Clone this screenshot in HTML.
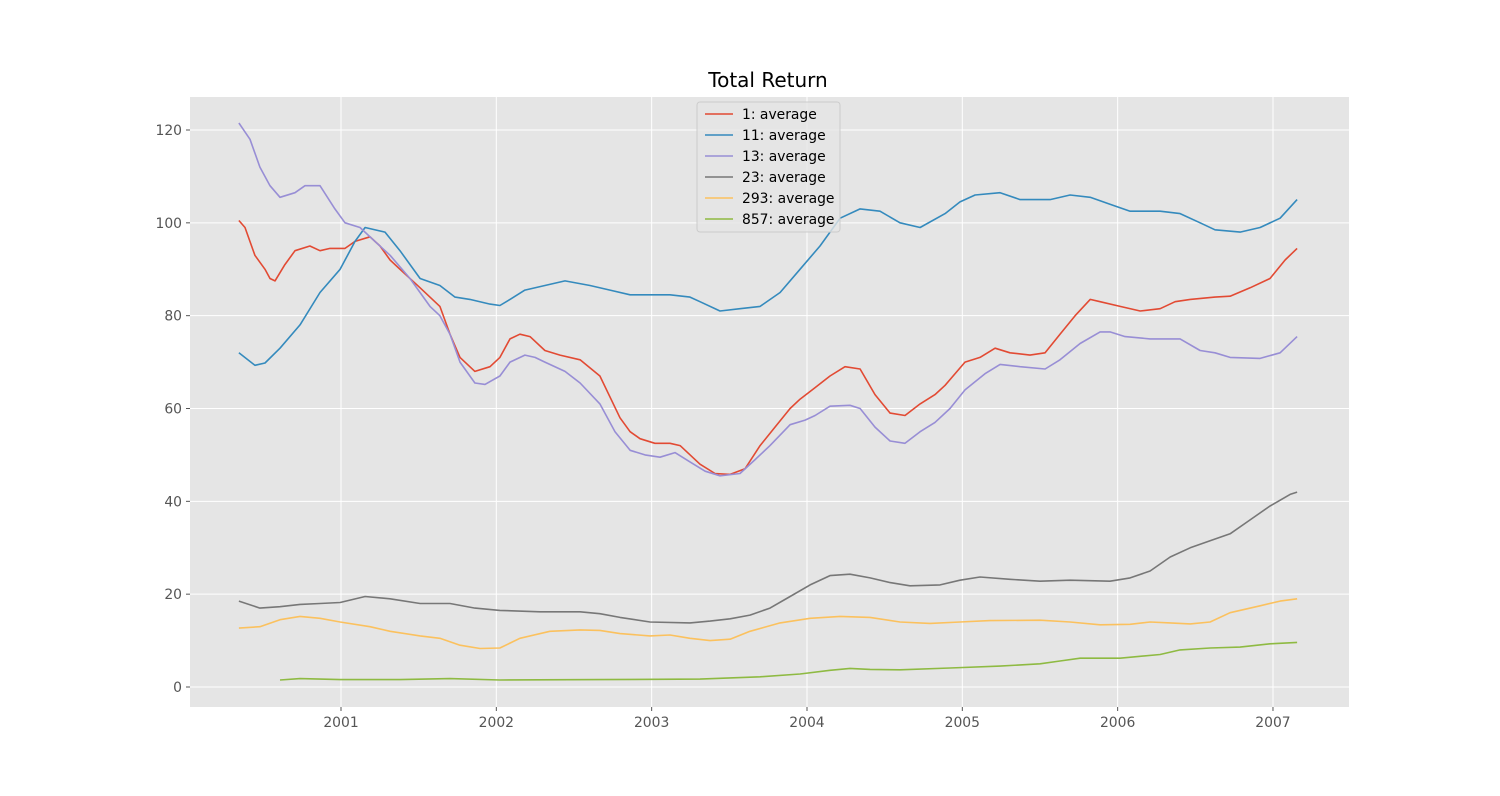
<!DOCTYPE html>
<html><head><meta charset="utf-8"><style>
html,body{margin:0;padding:0;background:#fff;}
svg{display:block;font-family:"DejaVu Sans","Liberation Sans",sans-serif;}
</style></head><body>
<svg id="chart" width="1500" height="796" viewBox="0 0 1500 796">
<rect x="0" y="0" width="1500" height="796" fill="#ffffff"/>
<text x="768" y="87" text-anchor="middle" font-size="20" fill="#000">Total Return</text>
<rect x="190" y="97" width="1159" height="610" fill="#e5e5e5"/>
<g id="grid"></g><g id="axes"></g><g id="series"></g><g id="legend"></g>
</svg>
<script>
const yTicks=[0,20,40,60,80,100,120];
const xTicks=[2001,2002,2003,2004,2005,2006,2007];
const seriesNames=["1: average","11: average","13: average","23: average","293: average","857: average"];
const seriesColors=["#E24A33","#348ABD","#988ED5","#777777","#FBC15E","#8EBA42"];

const d1=[2000.343,2000.382,2000.446,2000.511,2000.543,2000.575,2000.639,2000.704,2000.800,2000.865,2000.929,2001.026,2001.090,2001.187,2001.251,2001.316,2001.380,2001.509,2001.637,2001.702,2001.766,2001.862,2001.959,2002.023,2002.088,2002.152,2002.217,2002.313,2002.410,2002.539,2002.667,2002.796,2002.861,2002.925,2003.021,2003.118,2003.183,2003.311,2003.408,2003.505,2003.601,2003.698,2003.794,2003.891,2003.955,2004.052,2004.148,2004.245,2004.342,2004.438,2004.535,2004.631,2004.728,2004.824,2004.889,2005.017,2005.114,2005.211,2005.307,2005.436,2005.533,2005.629,2005.726,2005.823,2005.887,2006.016,2006.145,2006.273,2006.370,2006.467,2006.627,2006.724,2006.853,2006.981,2007.078,2007.155];
const v1=[100.5,99,93,90,88,87.5,91,94,95,94,94.5,94.5,96,97,95,92,90,86,82,76,71,68,69,71,75,76,75.5,72.5,71.5,70.5,67,58,55,53.5,52.5,52.5,52,48,46,45.8,47,52,56,60,62,64.5,67,69,68.5,63,59,58.5,61,63,65,70,71,73,72,71.5,72,76,80,83.5,83,82,81,81.5,83,83.5,84,84.2,86,88,92,94.5];

const d2=[2000.343,2000.446,2000.511,2000.607,2000.736,2000.865,2000.994,2001.090,2001.155,2001.283,2001.380,2001.509,2001.637,2001.734,2001.830,2001.959,2002.023,2002.088,2002.184,2002.313,2002.442,2002.603,2002.732,2002.861,2002.989,2003.118,2003.247,2003.311,2003.440,2003.569,2003.698,2003.827,2003.955,2004.084,2004.213,2004.342,2004.470,2004.599,2004.728,2004.889,2004.985,2005.082,2005.243,2005.372,2005.565,2005.694,2005.823,2005.951,2006.080,2006.273,2006.402,2006.531,2006.627,2006.788,2006.917,2007.046,2007.155];
const v2=[72,69.3,69.8,73,78,85,90,96,99,98,94,88,86.5,84,83.5,82.5,82.2,83.5,85.5,86.5,87.5,86.5,85.5,84.5,84.5,84.5,84,83,81,81.5,82,85,90,95,101,103,102.5,100,99,102,104.5,106,106.5,105,105,106,105.5,104,102.5,102.5,102,100,98.5,98,99,101,105];

const d3=[2000.343,2000.414,2000.478,2000.543,2000.607,2000.704,2000.768,2000.865,2000.961,2001.026,2001.122,2001.219,2001.316,2001.444,2001.573,2001.637,2001.702,2001.766,2001.862,2001.927,2002.023,2002.088,2002.184,2002.249,2002.313,2002.442,2002.539,2002.667,2002.764,2002.861,2002.957,2003.054,2003.150,2003.247,2003.344,2003.440,2003.569,2003.666,2003.762,2003.891,2003.988,2004.052,2004.148,2004.277,2004.342,2004.438,2004.535,2004.631,2004.728,2004.824,2004.921,2005.017,2005.146,2005.243,2005.372,2005.533,2005.629,2005.758,2005.887,2005.951,2006.048,2006.209,2006.402,2006.531,2006.627,2006.724,2006.917,2007.046,2007.155];
const v3=[121.5,118,112,108,105.5,106.5,108,108,103,100,99,96,93,88,82,80,76,70,65.5,65.2,67,70,71.5,71,70,68,65.5,61,55,51,50,49.5,50.5,48.5,46.5,45.5,46,49,52,56.5,57.5,58.5,60.5,60.7,60,56,53,52.5,55,57,60,64,67.5,69.5,69,68.5,70.5,74,76.5,76.5,75.5,75,75,72.5,72,71,70.8,72,75.5];

const d4=[2000.343,2000.478,2000.607,2000.736,2000.865,2000.994,2001.155,2001.316,2001.509,2001.702,2001.862,2002.023,2002.281,2002.539,2002.667,2002.796,2002.989,2003.247,2003.376,2003.505,2003.633,2003.762,2003.891,2004.020,2004.148,2004.277,2004.406,2004.535,2004.663,2004.857,2004.985,2005.114,2005.307,2005.500,2005.694,2005.951,2006.080,2006.209,2006.338,2006.467,2006.595,2006.724,2006.853,2006.981,2007.110,2007.155];
const v4=[18.5,17,17.3,17.8,18,18.2,19.5,19,18,18,17,16.5,16.2,16.2,15.8,15,14,13.8,14.2,14.7,15.5,17,19.5,22,24,24.3,23.5,22.5,21.8,22,23,23.7,23.2,22.8,23,22.8,23.5,25,28,30,31.5,33,36,39,41.5,42];

const d5=[2000.343,2000.478,2000.607,2000.736,2000.865,2000.994,2001.187,2001.316,2001.509,2001.637,2001.766,2001.895,2002.023,2002.152,2002.345,2002.539,2002.667,2002.796,2002.989,2003.118,2003.247,2003.376,2003.505,2003.633,2003.827,2004.020,2004.213,2004.406,2004.599,2004.792,2004.985,2005.178,2005.500,2005.694,2005.887,2006.080,2006.209,2006.338,2006.467,2006.595,2006.724,2006.917,2007.046,2007.155];
const v5=[12.7,13,14.5,15.2,14.8,14,13,12,11,10.5,9,8.3,8.4,10.5,12,12.3,12.2,11.5,11,11.2,10.5,10,10.3,12,13.8,14.8,15.2,15,14,13.7,14,14.3,14.4,14,13.4,13.5,14,13.8,13.6,14,16,17.5,18.5,19];

const d6=[2000.607,2000.736,2000.994,2001.380,2001.702,2002.023,2002.667,2003.311,2003.698,2003.955,2004.148,2004.277,2004.406,2004.599,2004.921,2005.243,2005.500,2005.629,2005.758,2006.016,2006.273,2006.402,2006.595,2006.788,2006.981,2007.155];
const v6=[1.5,1.8,1.6,1.6,1.8,1.5,1.6,1.7,2.2,2.8,3.6,4,3.8,3.7,4.1,4.5,5,5.6,6.2,6.2,7,8,8.4,8.6,9.3,9.6];

const allDates=[d1,d2,d3,d4,d5,d6];
const allVals=[v1,v2,v3,v4,v5,v6];
const NS="http://www.w3.org/2000/svg";
const X0=190,X1=1349,Y0=97,Y1=707;
function xs(t){return 341+(t-2001)*155.33;}
function ys(v){return 687-v*(557/120);}
function mk(tag,attrs,parent){const e=document.createElementNS(NS,tag);for(const k in attrs)e.setAttribute(k,attrs[k]);parent.appendChild(e);return e;}
const grid=document.getElementById('grid'),axes=document.getElementById('axes'),ser=document.getElementById('series'),leg=document.getElementById('legend');
yTicks.forEach(v=>{const y=ys(v);
 const g=mk('line',{x1:X0,x2:X1,y1:y,y2:y,stroke:'#fff','stroke-width':1},grid);
 
 
 const tk=mk('line',{x1:X0-4,x2:X0,y1:y,y2:y,stroke:'#555','stroke-width':1},axes);
 
 
 const t=mk('text',{x:X0-8,y:y+5,'text-anchor':'end','font-size':13.9,fill:'#555'},axes);
 t.textContent=v;
 
 
});
xTicks.forEach(v=>{const x=xs(v);
 const g=mk('line',{x1:x,x2:x,y1:Y0,y2:Y1,stroke:'#fff','stroke-width':1},grid);
 
 
 const tk=mk('line',{x1:x,x2:x,y1:Y1,y2:Y1+4,stroke:'#555','stroke-width':1},axes);
 
 
 const t=mk('text',{x:x,y:Y1+20,'text-anchor':'middle','font-size':13.9,fill:'#555'},axes);
 t.textContent=v;
 
 
});
allDates.forEach((ds,i)=>{
 const pts=ds.map((d,j)=>xs(d).toFixed(1)+','+ys(allVals[i][j]).toFixed(1)).join(' ');
 const p=mk('polyline',{points:pts,fill:'none',stroke:seriesColors[i],'stroke-width':1.6,'stroke-linejoin':'round'},ser);
 
 
});
const box=mk('rect',{x:697,y:102,width:143,height:130,rx:3,fill:'#e5e5e5','fill-opacity':0.8,stroke:'#cccccc'},leg);


seriesNames.forEach((n,i)=>{const y=114+i*21;
 const l=mk('line',{x1:705,x2:733,y1:y,y2:y,stroke:seriesColors[i],'stroke-width':1.6},leg);
 
 
 const t=mk('text',{x:742,y:y+5,'font-size':13.9,fill:'#000'},leg);
 t.textContent=n;
 
 
});
</script>
</body></html>
